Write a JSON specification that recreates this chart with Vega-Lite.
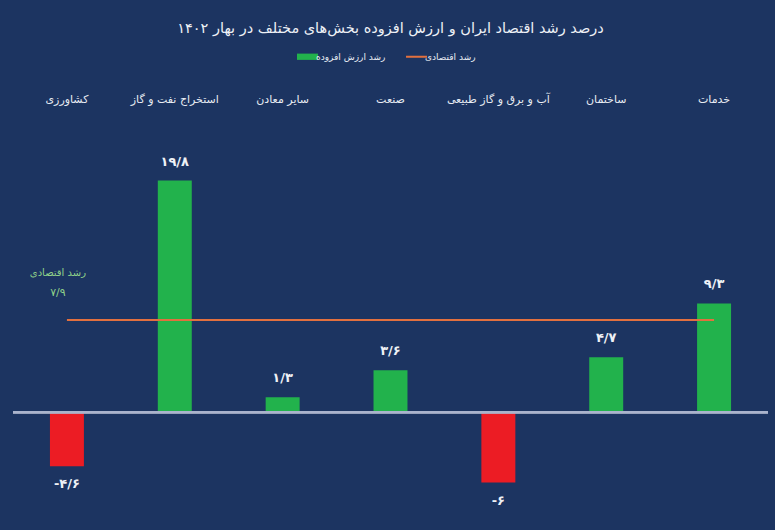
{
  "$schema": "https://vega.github.io/schema/vega-lite/v6.json",
  "width": 755,
  "height": 398,
  "autosize": {"type": "none"},
  "padding": {"left": 13, "right": 7, "top": 108, "bottom": 24},
  "background": "#1c3461",
  "config": {
    "font": "DejaVu Sans",
    "view": {"stroke": null},
    "axis": {"grid": false}
  },
  "title": {
    "text": "درصد رشد اقتصاد ایران و ارزش افزوده بخش‌های مختلف در بهار ۱۴۰۲",
    "color": "#eef1f6",
    "fontSize": 14.5,
    "fontWeight": "normal",
    "anchor": "middle",
    "offset": 16
  },
  "datasets": {
    "bars": [
      {"c": "کشاورزی", "v": -4.6, "label": "-۴/۶", "s": "رشد ارزش افزوده"},
      {"c": "استخراج نفت و گاز", "v": 19.8, "label": "۱۹/۸", "s": "رشد ارزش افزوده"},
      {"c": "سایر معادن", "v": 1.3, "label": "۱/۳", "s": "رشد ارزش افزوده"},
      {"c": "صنعت", "v": 3.6, "label": "۳/۶", "s": "رشد ارزش افزوده"},
      {"c": "آب و برق و گاز طبیعی", "v": -6, "label": "-۶", "s": "رشد ارزش افزوده"},
      {"c": "ساختمان", "v": 4.7, "label": "۴/۷", "s": "رشد ارزش افزوده"},
      {"c": "خدمات", "v": 9.3, "label": "۹/۳", "s": "رشد ارزش افزوده"}
    ],
    "growth": [
      {"a": "کشاورزی", "b": "خدمات", "v": 7.9, "s": "رشد اقتصادی", "t1": "رشد اقتصادی", "t2": "۷/۹"}
    ]
  },
  "layer": [
    {
      "data": {"name": "bars"},
      "mark": {"type": "bar"},
      "encoding": {
        "x": {
          "field": "c", "type": "nominal", "sort": null,
          "scale": {"paddingInner": 0.685, "paddingOuter": 0.3425},
          "axis": {
            "orient": "top", "title": null, "domain": false, "ticks": false,
            "labelAngle": 0, "labelColor": "#e8ecf3", "labelFontSize": 11,
            "labelPadding": 4, "labelFont": "DejaVu Sans"
          }
        },
        "y": {
          "field": "v", "type": "quantitative",
          "scale": {"domain": [-8, 26], "nice": false},
          "axis": null
        },
        "color": {
          "condition": {"test": "datum.v < 0", "value": "#ec1c24"},
          "field": "s", "type": "nominal",
          "scale": {"domain": ["رشد ارزش افزوده", "رشد اقتصادی"], "range": ["#22b24c", "#e2703f"]},
          "legend": {
            "orient": "none", "legendX": 290, "legendY": -56,
            "title": null, "direction": "horizontal",
            "labelColor": "#e8ecf3", "labelFontSize": 9, "labelFont": "DejaVu Sans",
            "symbolSize": 440, "columnPadding": 16, "labelOffset": 4,
            "encode": {
              "symbols": {
                "update": {
                  "shape": {"signal": "datum.value === 'رشد اقتصادی' ? 'stroke' : 'M-1,-0.3H1V0.3H-1Z'"},
                  "stroke": {"signal": "scale('color', datum.value)"},
                  "fill": {"signal": "scale('color', datum.value)"},
                  "strokeWidth": {"signal": "datum.value === 'رشد اقتصادی' ? 2 : 0"},
                  "opacity": {"value": 1}
                }
              }
            }
          }
        }
      }
    },
    {
      "data": {"name": "bars"},
      "mark": {"type": "rule", "color": "#aab3cc", "strokeWidth": 2},
      "encoding": {"y": {"datum": 0, "type": "quantitative"}}
    },
    {
      "data": {"name": "bars"},
      "transform": [{"filter": "datum.v >= 0"}],
      "mark": {"type": "text", "baseline": "bottom", "dy": -12, "fontSize": 13, "fontWeight": "bold", "color": "#eef1f6"},
      "encoding": {
        "x": {"field": "c", "type": "nominal", "sort": null},
        "y": {"field": "v", "type": "quantitative"},
        "text": {"field": "label"}
      }
    },
    {
      "data": {"name": "bars"},
      "transform": [{"filter": "datum.v < 0"}],
      "mark": {"type": "text", "baseline": "top", "dy": 12, "fontSize": 13, "fontWeight": "bold", "color": "#eef1f6"},
      "encoding": {
        "x": {"field": "c", "type": "nominal", "sort": null},
        "y": {"field": "v", "type": "quantitative"},
        "text": {"field": "label"}
      }
    },
    {
      "data": {"name": "growth"},
      "mark": {"type": "rule", "strokeWidth": 2},
      "encoding": {
        "x": {"field": "a", "type": "nominal", "sort": null},
        "x2": {"field": "b"},
        "y": {"field": "v", "type": "quantitative"},
        "color": {"field": "s", "type": "nominal"}
      }
    },
    {
      "data": {"name": "growth"},
      "mark": {"type": "text", "dx": -9, "dy": -47, "fontSize": 10, "color": "#8fd18a"},
      "encoding": {
        "x": {"field": "a", "type": "nominal", "sort": null},
        "y": {"field": "v", "type": "quantitative"},
        "text": {"field": "t1"}
      }
    },
    {
      "data": {"name": "growth"},
      "mark": {"type": "text", "dx": -9, "dy": -27, "fontSize": 11, "color": "#8fd18a"},
      "encoding": {
        "x": {"field": "a", "type": "nominal", "sort": null},
        "y": {"field": "v", "type": "quantitative"},
        "text": {"field": "t2"}
      }
    }
  ]
}
